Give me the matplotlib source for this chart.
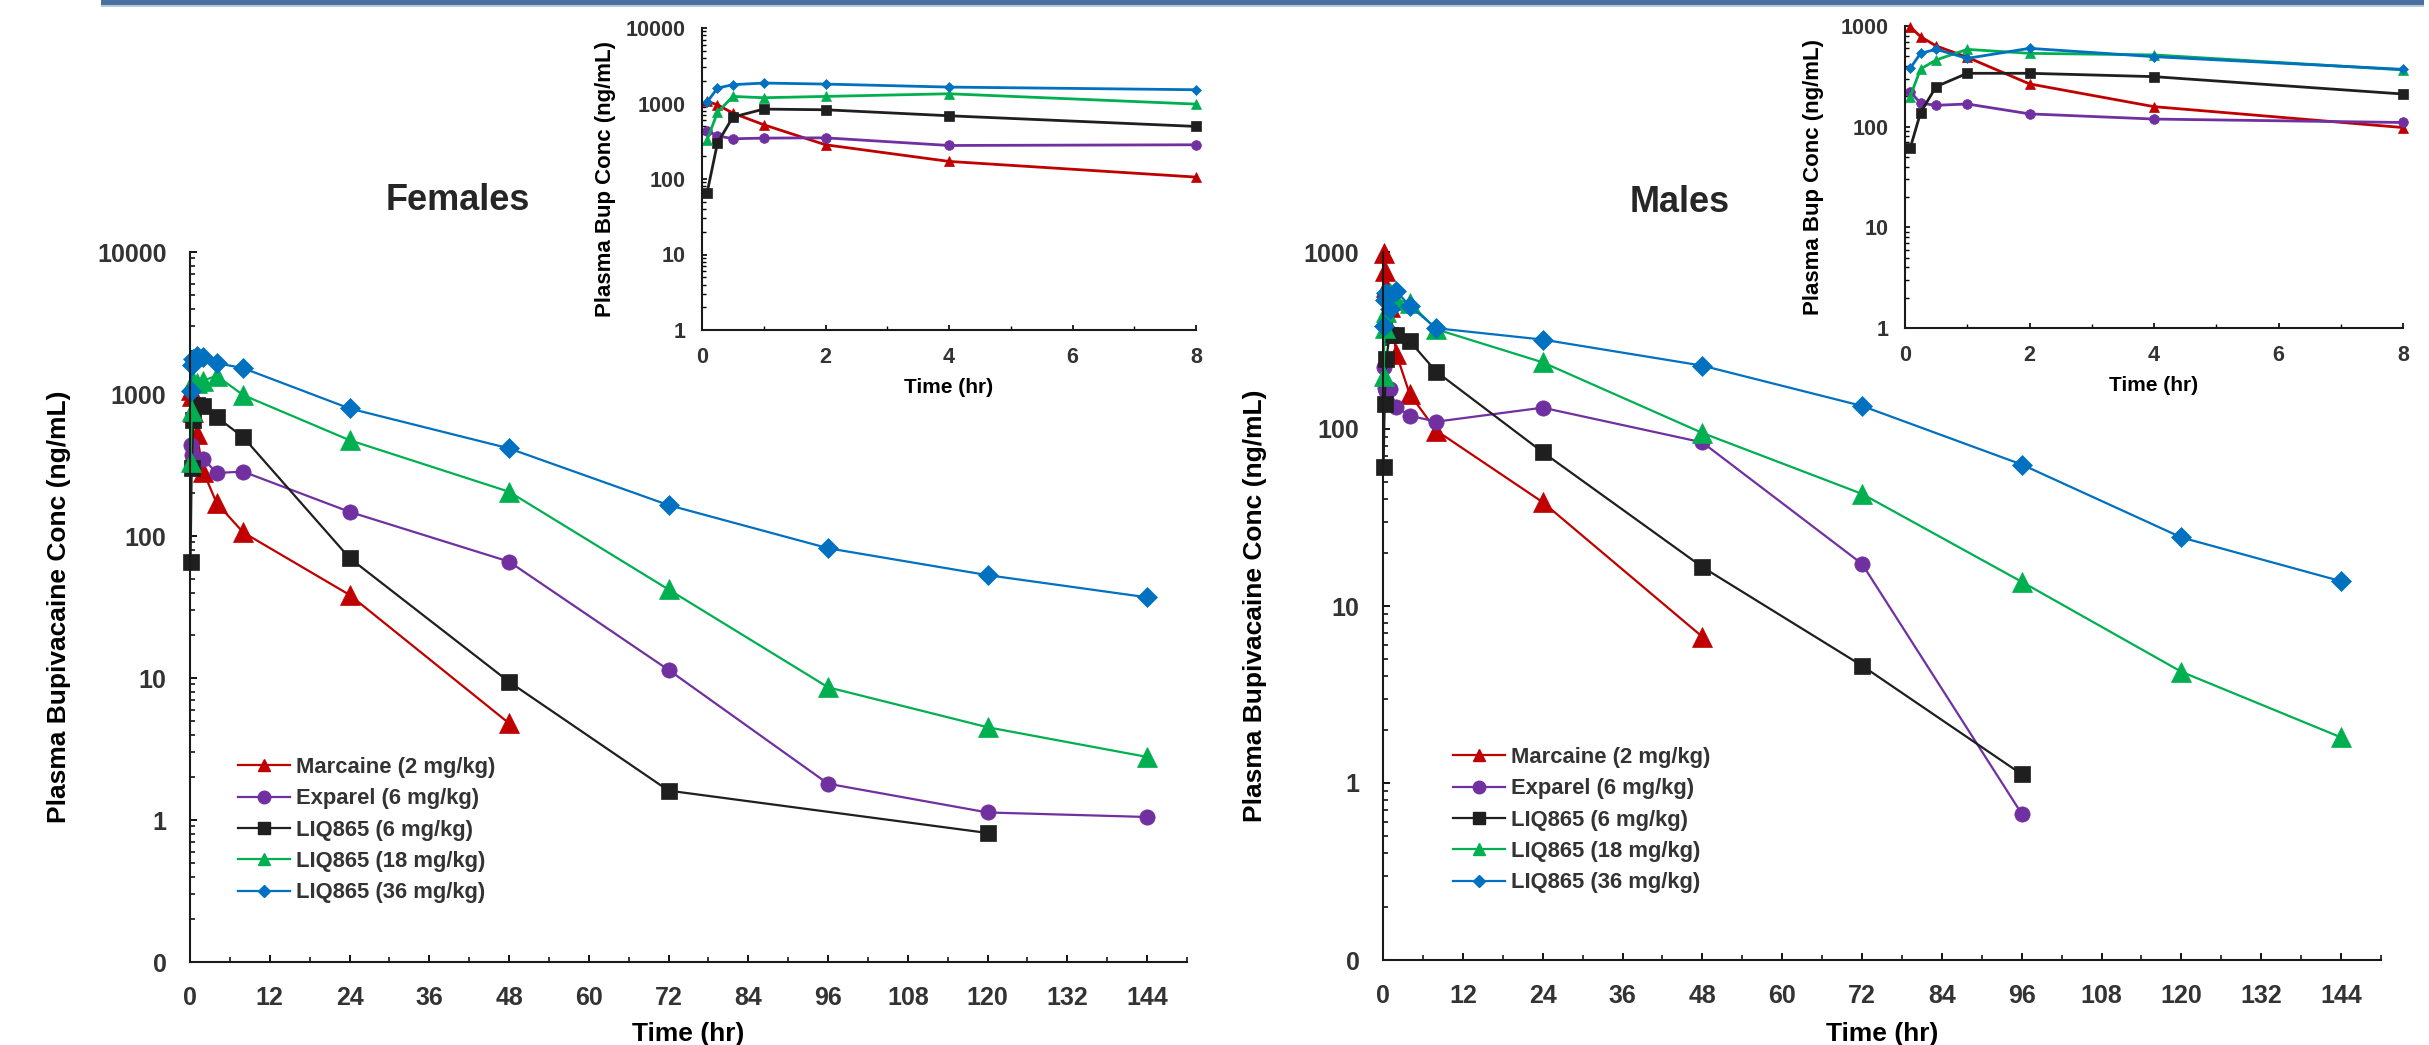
import numpy as np
import matplotlib
matplotlib.use("Agg")
import matplotlib.pyplot as plt
from matplotlib.lines import Line2D
from matplotlib.patches import Rectangle
from matplotlib.ticker import FixedLocator, MultipleLocator, NullFormatter

plt.rcParams['font.family'] = ['Liberation Sans', 'DejaVu Sans']
plt.rcParams['font.weight'] = 'bold'

# time points (hr)
t_all = [0.083, 0.25, 0.5, 1, 2, 4, 8, 24, 48, 72, 96, 120, 144]

# females (ng/mL)
t_marc_f = t_all[:9]
marcaine_f = [1067, 962, 746, 523, 284, 171, 106, 38.5, 4.8]
exparel_f = [435, 374, 341, 348, 351, 278, 284, 148, 66, 11.4, 1.8, 1.13, 1.05]
t_liq6_f = [0.083, 0.25, 0.5, 1, 2, 4, 8, 24, 48, 72, 120]
liq6_f = [66, 299, 661, 843, 826, 688, 497, 70, 9.4, 1.61, 0.81]
liq18_f = [330, 762, 1241, 1192, 1241, 1346, 982, 473, 205, 42, 8.6, 4.5, 2.78]
liq36_f = [1045, 1600, 1775, 1866, 1808, 1650, 1521, 791, 414, 165, 82, 53, 37]

# males (ng/mL)
t_marc_m = t_all[:9]
marcaine_m = [985, 783, 634, 489, 266, 158, 98, 38.6, 6.7]
t_exp_m = t_all[:11]
exparel_m = [223, 171, 163, 168, 134, 119, 110, 132, 84, 17.3, 0.67]
t_liq6_m = t_all[:11]
liq6_m = [61, 138, 250, 339, 339, 314, 211, 74, 16.6, 4.6, 1.12]
liq18_m = [199, 374, 460, 586, 535, 516, 366, 238, 95, 43, 13.7, 4.25, 1.81]
liq36_m = [380, 535, 587, 477, 600, 496, 371, 320, 228, 135, 63, 24.4, 13.8]

labels = ['Marcaine (2 mg/kg)', 'Exparel (6 mg/kg)', 'LIQ865 (6 mg/kg)',
          'LIQ865 (18 mg/kg)', 'LIQ865 (36 mg/kg)']
colors = ['#C00000', '#7030A0', '#1F1F1F', '#00B050', '#0070C0']
markers = ['^', 'o', 's', '^', 'D']
ms_main = [14, 11, 11.5, 14, 9.7]
ms_inset = [7, 7, 6.6, 7, 5]
ms_leg = [8.6, 9, 8.6, 8.6, 5.8]

females = [(t_marc_f, marcaine_f), (t_all, exparel_f), (t_liq6_f, liq6_f),
           (t_all, liq18_f), (t_all, liq36_f)]
males = [(t_marc_m, marcaine_m), (t_exp_m, exparel_m), (t_liq6_m, liq6_m),
         (t_all, liq18_m), (t_all, liq36_m)]

TXT = '#333333'
W, H = 2429, 1045
fig = plt.figure(figsize=(W / 100, H / 100), dpi=100)

# banner at top
fig.add_artist(Rectangle((101 / W, 1 - 5 / H), 2323 / W, 5 / H, transform=fig.transFigure,
                         color='#4A70A0', lw=0))
fig.add_artist(Rectangle((101 / W, 1 - 6.5 / H), 2323 / W, 1.5 / H, transform=fig.transFigure,
                         color='#B5C7DC', lw=0))


def px_axes(l, t, r, b):
    return fig.add_axes([l / W, 1 - b / H, (r - l) / W, (b - t) / H])


def style(ax, lw):
    ax.spines['top'].set_visible(False)
    ax.spines['right'].set_visible(False)
    for s in ['left', 'bottom']:
        ax.spines[s].set_linewidth(lw)
        ax.spines[s].set_color('#1a1a1a')
    ax.set_facecolor('none')


def main_panel(box, data, ymax, yticks, ytl, ylab_x, title, title_xy, leg_xy):
    ax = px_axes(*box)
    for (t, v), c, m, ms in zip(data, colors, markers, ms_main):
        ax.plot(t, v, color=c, marker=m, ms=ms, mec=c, mew=0.5, lw=1.6, clip_on=False)
    ax.set_yscale('log')
    ax.set_ylim(0.1, ymax)
    ax.set_xlim(0, 150)
    ax.set_yticks(yticks, ytl)
    ax.yaxis.set_minor_locator(matplotlib.ticker.LogLocator(base=10, subs=np.arange(2, 10)))
    ax.yaxis.set_minor_formatter(NullFormatter())
    ax.set_xticks(np.arange(0, 145, 12))
    ax.xaxis.set_minor_locator(FixedLocator(np.arange(0, 151, 6)))
    style(ax, 1.5)
    ax.tick_params(axis='both', which='major', direction='in', length=5, width=1.3,
                   labelsize=18, labelcolor=TXT, pad=17)
    ax.tick_params(axis='both', which='minor', direction='in', length=3.5, width=1.1)
    for lab in ax.get_xticklabels() + ax.get_yticklabels():
        lab.set_fontweight('bold')
    ax.set_ylabel('Plasma Bupivacaine Conc (ng/mL)', fontsize=19, fontweight='bold', color='black')
    ax.yaxis.set_label_coords(ylab_x, 0.5)
    ax.set_xlabel('Time (hr)', fontsize=19, fontweight='bold', color='black')
    ax.xaxis.set_label_coords(0.5, -(1022 - box[3]) / (box[3] - box[1]))
    fig.text(title_xy[0] / W, 1 - title_xy[1] / H, title, fontsize=26, fontweight='bold',
             color='#262626', ha='center', va='baseline')
    handles = [Line2D([], [], color=c, marker=m, ms=ms, mec=c, lw=1.6)
               for c, m, ms in zip(colors, markers, ms_leg)]
    leg = ax.legend(handles, labels, loc='upper left', frameon=False,
                    bbox_to_anchor=(leg_xy[0] / W, 1 - leg_xy[1] / H),
                    bbox_transform=fig.transFigure, borderpad=0, borderaxespad=0,
                    handlelength=2.35, handletextpad=0.3, labelspacing=0.47,
                    prop={'size': 15.8, 'weight': 'bold'})
    for txt in leg.get_texts():
        txt.set_color(TXT)
    return ax


def inset_panel(box, data, ymax, yticks, ylab_x):
    ax = px_axes(*box)
    ax.set_facecolor('white')
    for (t, v), c, m, ms in zip(data, colors, markers, ms_inset):
        t = np.array(t)
        v = np.array(v)
        keep = t <= 8
        ax.plot(t[keep], v[keep], color=c, marker=m, ms=ms, mec=c, mew=0.5, lw=2.0,
                clip_on=False)
    ax.set_yscale('log')
    ax.set_ylim(1, ymax)
    ax.set_xlim(0, 8)
    ax.set_yticks(yticks, [str(y) for y in yticks])
    ax.yaxis.set_minor_locator(matplotlib.ticker.LogLocator(base=10, subs=np.arange(2, 10)))
    ax.yaxis.set_minor_formatter(NullFormatter())
    ax.set_xticks([0, 2, 4, 6, 8])
    ax.xaxis.set_minor_locator(MultipleLocator(1))
    style(ax, 1.5)
    ax.tick_params(axis='both', which='major', direction='in', length=3.6, width=1.2,
                   labelsize=15.5, labelcolor=TXT, pad=12)
    ax.tick_params(axis='both', which='minor', direction='in', length=3, width=1.0)
    for lab in ax.get_xticklabels() + ax.get_yticklabels():
        lab.set_fontweight('bold')
    ax.set_ylabel('Plasma Bup Conc (ng/mL)', fontsize=16, fontweight='bold', color='black')
    ax.yaxis.set_label_coords(ylab_x, 0.5)
    ax.set_xlabel('Time (hr)', fontsize=15, fontweight='bold', color='black')
    ax.xaxis.set_label_coords(0.5, -0.16)
    return ax


main_panel((190, 252, 1187, 962), females, 10000, [0.1, 1, 10, 100, 1000, 10000],
           ['0', '1', '10', '100', '1000', '10000'], -0.119, 'Females', (458, 210), (238, 757))
main_panel((1383, 252, 2381, 960), males, 1000, [0.1, 1, 10, 100, 1000],
           ['0', '1', '10', '100', '1000'], -0.116, 'Males', (1680, 212), (1453, 747))
inset_panel((702, 28, 1196, 330), females, 10000, [1, 10, 100, 1000, 10000], -0.175)
inset_panel((1905, 26, 2403, 328), males, 1000, [1, 10, 100, 1000], -0.162)

fig.savefig('out.png', dpi=100)
